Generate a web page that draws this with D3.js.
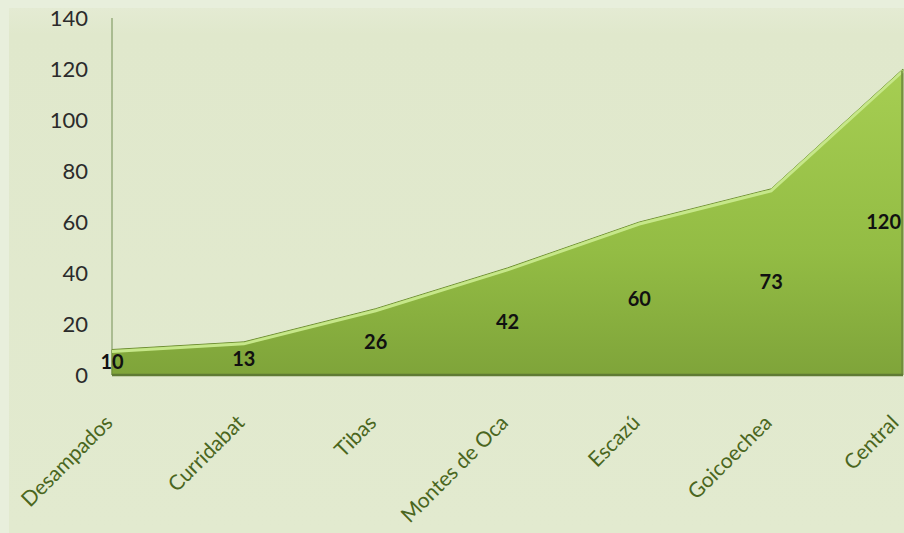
<!DOCTYPE html>
<html>
<head>
<meta charset="utf-8">
<script src="https://cdn.jsdelivr.net/npm/d3@7"></script>
<style>
  html, body { margin: 0; padding: 0; background: #e8efdc; }
  svg { display: block; }
</style>
</head>
<body>
<script>
// Cantones y valores
const categories = ["Desampados", "Curridabat", "Tibas", "Montes de Oca", "Escazú", "Goicoechea", "Central"];
const values = [10, 13, 26, 42, 60, 73, 120];
const yTicks = [0, 20, 40, 60, 80, 100, 120, 140];

const W = 904, H = 533;
const margin = { left: 112, right: 1, top: 18, bottom: 158 };
const FONT = "Lato, 'Open Sans', sans-serif";

const svg = d3.select("body").append("svg").attr("width", W).attr("height", H);
const defs = svg.append("defs");

// panel background
const bg = defs.append("linearGradient").attr("id", "bg").attr("x1", 0).attr("y1", 0).attr("x2", 0).attr("y2", 1);
bg.append("stop").attr("offset", "0").attr("stop-color", "#e4ebd3");
bg.append("stop").attr("offset", "0.05").attr("stop-color", "#e0e8cc");
bg.append("stop").attr("offset", "1").attr("stop-color", "#e2eacf");
svg.append("rect").attr("x", 9).attr("y", 8).attr("width", W - 9).attr("height", H - 8).attr("fill", "url(#bg)");

// area fill
const ag = defs.append("linearGradient").attr("id", "areaFill").attr("x1", 0).attr("y1", 0).attr("x2", 0).attr("y2", 1);
ag.append("stop").attr("offset", "0").attr("stop-color", "#a6ce52");
ag.append("stop").attr("offset", "0.6").attr("stop-color", "#93bc44");
ag.append("stop").attr("offset", "1").attr("stop-color", "#7fa43a");

const x = d3.scalePoint().domain(categories).range([margin.left, W - margin.right]);
const y = d3.scaleLinear().domain([0, 140]).range([H - margin.bottom, margin.top]);

const data = categories.map((c, i) => ({ c, v: values[i] }));

// y axis line
svg.append("line")
  .attr("x1", margin.left).attr("x2", margin.left)
  .attr("y1", y(140)).attr("y2", y(0))
  .attr("stroke", "#97ad7c").attr("stroke-width", 1.5);

// y tick labels
const yAxis = d3.axisLeft(y).tickValues(yTicks).tickSize(0).tickPadding(24);
const gy = svg.append("g").attr("transform", `translate(${margin.left},0)`).call(yAxis);
gy.select(".domain").remove();
gy.selectAll("text")
  .attr("font-family", FONT)
  .attr("font-size", 22)
  .attr("fill", "#2b2b2b");

// area
const area = d3.area().x(d => x(d.c)).y0(y(0)).y1(d => y(d.v));
const line = d3.line().x(d => x(d.c)).y(d => y(d.v));

svg.append("path").datum(data)
  .attr("d", area)
  .attr("fill", "url(#areaFill)")
  .attr("stroke", "#6f8f35").attr("stroke-width", 1);

// light bevel on the top edge
svg.append("path").datum(data)
  .attr("d", line)
  .attr("fill", "none")
  .attr("stroke", "#c6e789").attr("stroke-width", 3)
  .attr("transform", "translate(0,2)");

// right edge shading
svg.append("line")
  .attr("x1", x(categories[categories.length - 1]) - 1).attr("x2", x(categories[categories.length - 1]) - 1)
  .attr("y1", y(values[values.length - 1]) + 2).attr("y2", y(0))
  .attr("stroke", "#6f8a3c").attr("stroke-width", 1.5);

// dark base edge
svg.append("line")
  .attr("x1", x(categories[0])).attr("x2", x(categories[categories.length - 1]))
  .attr("y1", y(0)).attr("y2", y(0))
  .attr("stroke", "#5f7a34").attr("stroke-width", 2.5);

// value labels at half height
svg.append("g").selectAll("text").data(data).join("text")
  .attr("x", (d, i) => i === data.length - 1 ? W - 3 : x(d.c))
  .attr("y", d => y(d.v / 2))
  .attr("dy", "0.36em")
  .attr("text-anchor", (d, i) => i === data.length - 1 ? "end" : "middle")
  .attr("font-family", FONT)
  .attr("font-weight", "bold")
  .attr("font-size", 20)
  .attr("fill", "#111")
  .text(d => d.v);

// rotated category labels
svg.append("g").selectAll("text").data(categories).join("text")
  .attr("transform", d => `translate(${Math.min(x(d) + 2, W - 4)},${y(0) + 49}) rotate(-45)`)
  .attr("text-anchor", "end")
  .attr("font-family", FONT)
  .attr("font-size", 21)
  .attr("fill", "#4a6620")
  .text(d => d);
</script>
</body>
</html>
